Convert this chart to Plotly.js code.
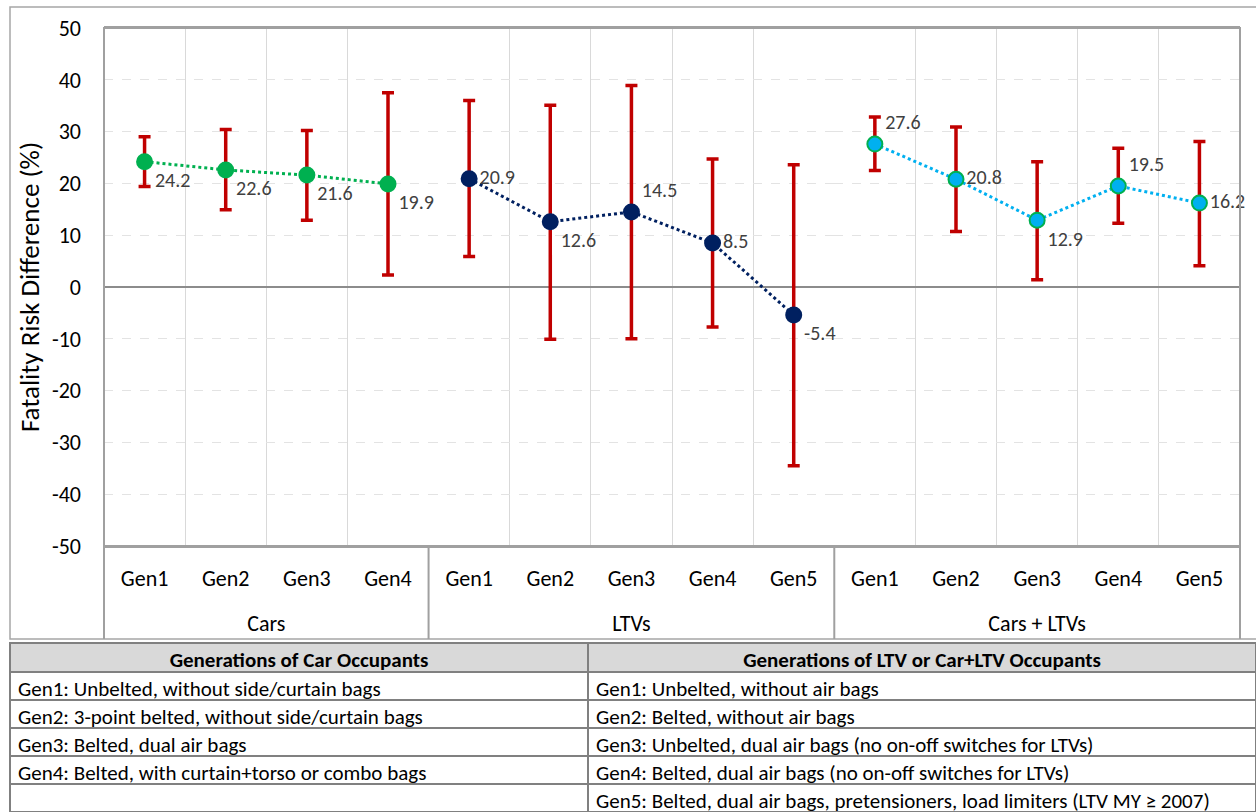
<!DOCTYPE html>
<html>
<head>
<meta charset="utf-8">
<script src="https://cdn.plot.ly/plotly-3.0.1.min.js"></script>
<style>
  html, body { margin: 0; padding: 0; background: #fff; }
  #chart { width: 1256px; height: 812px; }
</style>
</head>
<body>
<div id="chart"></div>
<script>
var FONT = 'Carlito, Lato, sans-serif';

// values
var carsGen = ['Gen1', 'Gen2', 'Gen3', 'Gen4'];
var carsVal = [24.2, 22.6, 21.6, 19.9];
var carsLow = [19.4, 14.9, 12.9, 2.3];
var carsHigh = [29.0, 30.4, 30.2, 37.5];
var carsPos = ['bottom right', 'bottom right', 'bottom right', 'bottom right'];

var ltvGen = ['Gen1', 'Gen2', 'Gen3', 'Gen4', 'Gen5'];
var ltvVal = [20.9, 12.6, 14.5, 8.5, -5.4];
var ltvLow = [5.9, -10.1, -10.0, -7.7, -34.5];
var ltvHigh = [36.0, 35.1, 38.9, 24.7, 23.6];
var ltvPos = ['middle right', 'bottom right', 'top right', 'middle right', 'bottom right'];

var allGen = ['Gen1', 'Gen2', 'Gen3', 'Gen4', 'Gen5'];
var allVal = [27.6, 20.8, 12.9, 19.5, 16.2];
var allLow = [22.5, 10.7, 1.4, 12.3, 4.1];
var allHigh = [32.8, 30.9, 24.2, 26.8, 28.1];
var allPos = ['top right', 'middle right', 'bottom right', 'top right', 'middle right'];

var groupNames = ['Cars', 'LTVs', 'Cars + LTVs'];

var yTicks = [-50, -40, -30, -20, -10, 0, 10, 20, 30, 40, 50];
var yTickText = ['-50', '-40', '-30', '-20', '-10', '0', '10', '20', '30', '40', '50'];

var carRows = [
  'Gen1: Unbelted, without side/curtain bags',
  'Gen2: 3-point belted, without side/curtain bags',
  'Gen3: Belted, dual air bags',
  'Gen4: Belted, with curtain+torso or combo bags',
  ''
];
var ltvRows = [
  'Gen1: Unbelted, without air bags',
  'Gen2: Belted, without air bags',
  'Gen3: Unbelted, dual air bags (no on-off switches for LTVs)',
  'Gen4: Belted, dual air bags (no on-off switches for LTVs)',
  'Gen5: Belted, dual air bags, pretensioners, load limiters (LTV MY \u2265 2007)'
];

// plot frame in paper units
var xL = 104 / 1256, xR = 1240 / 1256;
var yB = 1 - 546 / 812, yT = 1 - 28 / 812;
var counts = [carsGen.length, ltvGen.length, allGen.length];
var nCats = counts[0] + counts[1] + counts[2];
var unit = (xR - xL) / nCats;
var edges = [xL, xL + counts[0] * unit, xL + (counts[0] + counts[1]) * unit, xR];

function diff(a, b) {
  return a.map(function(v, i) { return +(v - b[i]).toFixed(2); });
}

function series(axis, gens, vals, low, high, pos, color, outline) {
  return {
    type: 'scatter',
    mode: 'lines+markers+text',
    xaxis: axis,
    yaxis: 'y',
    x: gens,
    y: vals,
    text: vals.map(function(v) { return v.toFixed(1); }),
    textposition: pos,
    textfont: {family: FONT, size: 20, color: '#404040'},
    line: {color: color, width: 3, dash: 'dot'},
    marker: {size: 15, color: color, line: {color: outline, width: 2}},
    error_y: {
      type: 'data',
      symmetric: false,
      array: diff(high, vals),
      arrayminus: diff(vals, low),
      color: '#C00000',
      thickness: 3.5,
      width: 6
    },
    showlegend: false,
    cliponaxis: false
  };
}

function groupAxis(i) {
  return {
    type: 'category',
    anchor: 'y',
    domain: [edges[i], edges[i + 1]],
    range: [-0.5, counts[i] - 0.5],
    tickson: 'boundaries',
    ticks: '',
    ticklabelstandoff: 12,
    showgrid: true,
    gridcolor: '#D9D9D9',
    gridwidth: 1,
    showline: true,
    linecolor: '#A0A0A0',
    linewidth: 2,
    mirror: true,
    zeroline: false,
    tickfont: {family: FONT, size: 22, color: '#000'},
    title: {
      text: groupNames[i],
      font: {family: FONT, size: 22, color: '#000'},
      standoff: 24
    },
    fixedrange: true
  };
}

var data = [
  series('x', carsGen, carsVal, carsLow, carsHigh, carsPos, '#00B050', '#00B050'),
  series('x2', ltvGen, ltvVal, ltvLow, ltvHigh, ltvPos, '#002060', '#002060'),
  series('x3', allGen, allVal, allLow, allHigh, allPos, '#00B0F0', '#00B050'),
  {
    type: 'table',
    domain: {x: [10 / 1256, 1], y: [0, 1 - 643 / 812]},
    columnwidth: [578, 668],
    header: {
      values: ['Generations of Car Occupants', 'Generations of LTV or Car+LTV Occupants'],
      align: 'center',
      height: 29,
      fill: {color: '#D9D9D9'},
      line: {color: '#808080', width: 2},
      font: {family: FONT, size: 21, color: '#000', weight: 'bold'}
    },
    cells: {
      values: [carRows, ltvRows],
      align: 'left',
      height: 28,
      fill: {color: '#fff'},
      line: {color: '#808080', width: 2},
      font: {family: FONT, size: 21, color: '#000'}
    }
  }
];

// group dividers from the plot bottom down to the frame bottom
var dividerShapes = edges.map(function(px) {
  return {
    type: 'line', xref: 'paper', yref: 'paper',
    x0: px, x1: px, y0: 1 - 639 / 812, y1: yB,
    line: {color: '#A0A0A0', width: 2}
  };
});

var layout = {
  width: 1256,
  height: 812,
  margin: {l: 0, r: 0, t: 0, b: 0},
  paper_bgcolor: '#fff',
  plot_bgcolor: '#fff',
  font: {family: FONT, color: '#000'},
  xaxis: groupAxis(0),
  xaxis2: groupAxis(1),
  xaxis3: groupAxis(2),
  yaxis: {
    anchor: 'x',
    domain: [yB, yT],
    range: [-50, 50],
    tickmode: 'array',
    tickvals: yTicks,
    ticktext: yTickText,
    ticks: '',
    ticklabelstandoff: 22,
    showgrid: true,
    gridcolor: '#E3E3E3',
    griddash: 'dash',
    zeroline: true,
    zerolinecolor: '#8C8C8C',
    zerolinewidth: 2,
    showline: false,
    tickfont: {family: FONT, size: 22, color: '#000'},
    title: {
      text: 'Fatality Risk Difference (%)',
      font: {family: FONT, size: 27, color: '#000'},
      standoff: 4
    },
    fixedrange: true
  },
  shapes: [{
    type: 'rect',
    xref: 'paper', yref: 'paper',
    x0: 10 / 1256, x1: 1.05,
    y0: 1 - 639 / 812, y1: 1 - 7 / 812,
    line: {color: '#A6A6A6', width: 1.5},
    layer: 'below'
  }, {
    type: 'rect',
    xref: 'paper', yref: 'paper',
    x0: xL, x1: xR, y0: yB, y1: yT,
    line: {color: '#A0A0A0', width: 2}
  }].concat(dividerShapes)
};

Plotly.newPlot('chart', data, layout, {displayModeBar: false, staticPlot: true});
</script>
</body>
</html>
